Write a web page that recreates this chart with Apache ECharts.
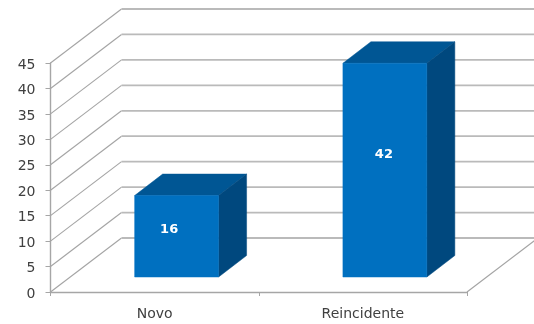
<!DOCTYPE html>
<html>
<head>
<meta charset="utf-8">
<style>html,body{margin:0;padding:0;background:#fff}#c{width:534px;height:324px}</style>
<script src="https://cdn.jsdelivr.net/npm/echarts@6/dist/echarts.min.js"></script>
</head>
<body>
<div id="c"></div>
<script>
const categories = ['Novo', 'Reincidente'];
const values = [16, 42];
const yTicks = [0, 5, 10, 15, 20, 25, 30, 35, 40, 45];

// Oblique projection of the 3D box, in pixels
const WALL_DX = 71, WALL_DY = 54;      // depth of the chart walls
const BAR_DX = 22, BAR_DY = 15;        // front face of a bar, relative to the axis plane
const DEPTH_DX = 28, DEPTH_DY = 21.5;  // depth of a bar
const BAR_SHARE = 0.403;               // bar width as share of the category band
const LABEL_NUDGE = [[-7.5, -7], [-1, -16]];
const FONT = '"DejaVu Sans", sans-serif';

const chart = echarts.init(document.getElementById('c'), null, { renderer: 'canvas' });

function renderGrid(params, api) {
  const cs = params.coordSys;
  const y = api.coord([0, api.value(0)])[1];
  const x0 = cs.x, x1 = cs.x + cs.width;
  const children = [
    { type: 'line', shape: { x1: x0, y1: y, x2: x0 + WALL_DX, y2: y - WALL_DY },
      style: { stroke: '#a4a4a4', lineWidth: 1.1 } },
    { type: 'line', shape: { x1: x0 + WALL_DX, y1: y - WALL_DY, x2: x1 + WALL_DX, y2: y - WALL_DY },
      style: { stroke: '#bababa', lineWidth: 1.8 } }
  ];
  if (api.value(0) === 0) {
    children.push({ type: 'line', shape: { x1: x1, y1: y, x2: x1 + WALL_DX, y2: y - WALL_DY },
      style: { stroke: '#a4a4a4', lineWidth: 1.1 } });
  }
  return { type: 'group', children };
}

function renderBar(params, api) {
  const idx = api.value(0), val = api.value(1);
  const base = api.coord([idx, 0]);
  const top = api.coord([idx, val]);
  const w = api.size([1, 0])[0] * BAR_SHARE;
  const xl = base[0] - w / 2 + BAR_DX, xr = xl + w;
  const yb = base[1] - BAR_DY, yt = top[1] - BAR_DY;
  const nudge = LABEL_NUDGE[params.dataIndex];
  return {
    type: 'group',
    children: [
      { type: 'polygon',
        shape: { points: [[xl, yt], [xr, yt], [xr + DEPTH_DX, yt - DEPTH_DY], [xl + DEPTH_DX, yt - DEPTH_DY]] },
        style: { fill: '#005694', stroke: '#005694', lineWidth: 0.5 } },
      { type: 'polygon',
        shape: { points: [[xr, yt], [xr + DEPTH_DX, yt - DEPTH_DY], [xr + DEPTH_DX, yb - DEPTH_DY], [xr, yb]] },
        style: { fill: '#00487e', stroke: '#00487e', lineWidth: 0.5 } },
      { type: 'rect', shape: { x: xl, y: yt, width: w, height: yb - yt },
        style: { fill: '#0070c0', stroke: '#0070c0', lineWidth: 0.5 } },
      { type: 'text',
        style: { x: (xl + xr) / 2 + nudge[0], y: (yt + yb) / 2 + nudge[1], text: String(val),
          fill: '#fff', font: 'bold 13px ' + FONT, align: 'center', verticalAlign: 'middle' } }
    ]
  };
}

chart.setOption({
  animation: false,
  backgroundColor: '#fff',
  grid: { left: 50.5, right: 67, top: 63, bottom: 32, containLabel: false },
  xAxis: {
    type: 'category', data: categories, boundaryGap: true,
    axisLine: { show: true, lineStyle: { color: '#a6a6a6', width: 1.4 } },
    axisTick: { show: true, alignWithLabel: false, length: 4, lineStyle: { color: '#a6a6a6' } },
    axisLabel: { color: '#404040', fontFamily: FONT, fontSize: 14, margin: 15 },
    splitLine: { show: false }
  },
  yAxis: {
    type: 'value', min: 0, max: 45, interval: 5,
    axisLine: { show: true, lineStyle: { color: '#a6a6a6', width: 1.4 } },
    axisTick: { show: true, length: 5, lineStyle: { color: '#a6a6a6' } },
    axisLabel: { color: '#404040', fontFamily: FONT, fontSize: 14, margin: 15, verticalAlign: 'top', lineHeight: 4 },
    splitLine: { show: false }
  },
  series: [
    { type: 'custom', renderItem: renderGrid, data: yTicks.map(v => [v]), clip: false, silent: true, z: 1,
      encode: { y: 0 } },
    { type: 'custom', renderItem: renderBar, data: values.map((v, i) => [i, v]), clip: false, z: 3,
      encode: { x: 0, y: 1 } }
  ]
});
</script>
</body>
</html>
